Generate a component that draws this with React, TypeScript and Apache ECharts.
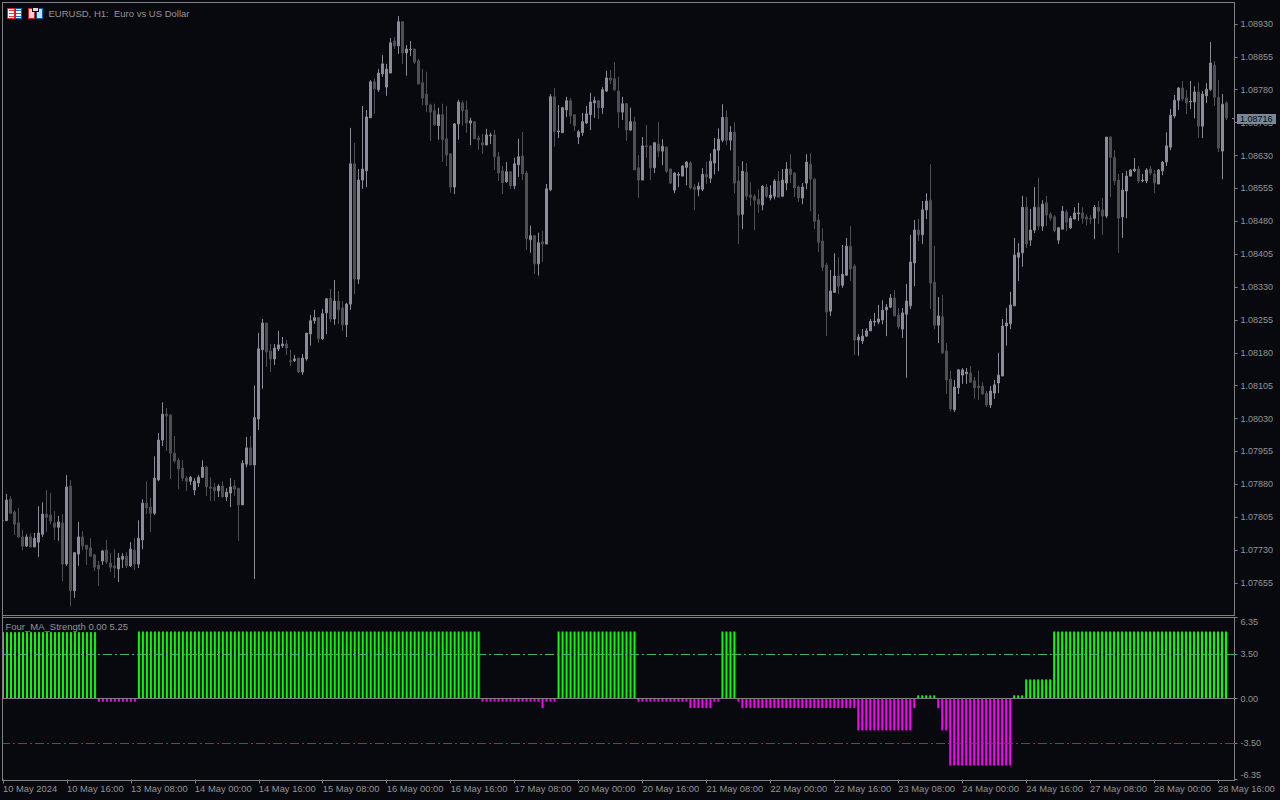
import React, { useEffect, useRef } from "react";
import * as echarts from "echarts";

// Candles, in 1e-5 price units: [open, close, low, high]
const candles: number[][] = [
[107798,107797,107796,107799],[107797,107844,107797,107858],[107846,107814,107812,107853],[107817,107789,107764,107821],
[107792,107760,107758,107826],[107760,107739,107730,107776],[107739,107760,107737,107766],[107760,107737,107737,107768],
[107737,107757,107737,107769],[107748,107769,107714,107830],[107766,107812,107760,107839],[107812,107805,107771,107867],
[107810,107796,107789,107860],[107792,107782,107753,107819],[107782,107794,107751,107808],[107792,107698,107659,107812],
[107698,107874,107694,107901],[107876,107637,107602,107890],[107637,107724,107621,107725],[107721,107760,107694,107794],
[107760,107739,107730,107773],[107741,107732,107696,107741],[107735,107716,107716,107757],[107719,107691,107682,107721],
[107696,107687,107648,107705],[107705,107728,107696,107730],[107730,107703,107698,107753],[107700,107691,107680,107723],
[107694,107689,107666,107732],[107687,107712,107657,107723],[107709,107716,107689,107723],[107716,107694,107689,107725],
[107694,107732,107691,107748],[107730,107698,107684,107757],[107698,107757,107689,107798],[107753,107837,107732,107846],
[107837,107826,107812,107887],[107828,107814,107771,107849],[107814,107894,107810,107944],[107890,107981,107887,107997],
[107981,108040,107967,108067],[108040,108036,107956,108054],[108038,107951,107892,108040],[107951,107933,107928,107990],
[107935,107915,107869,107940],[107917,107894,107887,107935],[107894,107887,107865,107899],[107887,107896,107878,107899],
[107867,107887,107855,107894],[107883,107896,107874,107901],[107896,107919,107894,107935],[107919,107874,107853,107922],
[107874,107871,107842,107896],[107873,107865,107842,107883],[107865,107876,107851,107880],[107876,107851,107851,107887],
[107851,107862,107842,107871],[107860,107874,107828,107894],[107876,107869,107853,107890],[107871,107833,107751,107871],
[107833,107928,107833,107935],[107926,107963,107919,107988],[107963,107924,107924,107990],[107924,108032,107664,108105],
[108029,108189,108004,108225],[108187,108248,108098,108257],[108248,108182,108148,108248],[108184,108166,108136,108200],
[108166,108191,108152,108200],[108189,108198,108184,108230],[108196,108200,108191,108216],[108200,108191,108175,108209],
[108162,108160,108150,108187],[108162,108166,108159,108175],[108168,108136,108134,108168],[108136,108168,108130,108177],
[108166,108225,108162,108225],[108223,108253,108196,108266],[108253,108260,108246,108278],[108260,108212,108203,108262],
[108212,108269,108209,108280],[108271,108303,108223,108305],[108305,108257,108250,108326],[108257,108298,108244,108346],
[108298,108278,108246,108321],[108282,108244,108230,108298],[108244,108291,108216,108294],[108291,108611,108278,108693],
[108611,108348,108314,108659],[108348,108574,108337,108599],[108574,108599,108554,108743],[108595,108718,108558,108734],
[108716,108798,108716,108802],[108798,108782,108725,108805],[108780,108818,108775,108827],[108816,108839,108809,108859],
[108786,108827,108766,108839],[108818,108887,108818,108898],[108891,108880,108873,108900],[108880,108935,108862,108948],
[108935,108864,108839,108937],[108864,108873,108812,108882],[108871,108872,108857,108891],[108873,108843,108839,108873],
[108846,108793,108793,108850],[108796,108761,108745,108827],[108770,108745,108729,108821],[108745,108729,108663,108748],
[108732,108700,108698,108748],[108698,108723,108666,108739],[108723,108666,108615,108748],[108668,108631,108606,108743],
[108634,108558,108545,108634],[108558,108702,108542,108704],[108702,108752,108666,108757],[108750,108732,108698,108755],
[108734,108704,108682,108755],[108704,108709,108654,108716],[108707,108668,108668,108707],[108670,108666,108643,108675],
[108659,108654,108634,108679],[108654,108677,108654,108691],[108675,108677,108656,108682],[108677,108627,108597,108688],
[108627,108590,108572,108638],[108595,108568,108542,108606],[108570,108593,108568,108615],[108593,108561,108554,108595],
[108561,108611,108554,108625],[108609,108627,108581,108668],[108629,108588,108574,108684],[108590,108440,108415,108595],
[108438,108447,108408,108470],[108447,108383,108360,108447],[108383,108431,108356,108454],[108433,108428,108387,108458],
[108428,108554,108428,108565],[108552,108764,108549,108770],[108764,108684,108650,108784],[108684,108686,108670,108745],
[108682,108739,108682,108741],[108734,108755,108718,108764],[108755,108720,108702,108761],[108723,108698,108686,108723],
[108672,108684,108656,108688],[108682,108707,108675,108727],[108704,108725,108702,108743],[108723,108752,108688,108773],
[108750,108755,108716,108764],[108755,108739,108713,108755],[108739,108780,108725,108786],[108777,108807,108775,108823],
[108807,108802,108793,108825],[108805,108780,108777,108843],[108777,108729,108693,108809],[108729,108748,108711,108764],
[108748,108688,108663,108750],[108688,108707,108686,108739],[108707,108597,108597,108718],[108602,108574,108533,108631],
[108574,108652,108574,108672],[108652,108650,108625,108700],[108652,108602,108574,108652],[108602,108659,108590,108661],
[108656,108640,108626,108706],[108640,108651,108608,108667],[108649,108594,108590,108651],[108599,108567,108565,108601],
[108551,108590,108544,108592],[108585,108587,108558,108592],[108583,108606,108583,108608],[108603,108615,108562,108617],
[108613,108556,108553,108617],[108558,108553,108505,108565],[108553,108560,108537,108569],[108553,108587,108549,108601],
[108587,108581,108565,108615],[108578,108617,108567,108635],[108613,108644,108587,108670],[108642,108667,108594,108692],
[108665,108717,108660,108747],[108717,108665,108654,108733],[108665,108683,108642,108697],[108683,108567,108544,108706],
[108572,108494,108428,108606],[108496,108594,108462,108617],[108592,108537,108528,108613],[108540,108535,108515,108569],
[108537,108528,108460,108542],[108530,108519,108499,108553],[108517,108560,108505,108562],[108558,108537,108533,108565],
[108533,108540,108528,108562],[108537,108572,108530,108576],[108572,108535,108535,108594],[108537,108574,108535,108599],
[108567,108599,108551,108615],[108599,108587,108567,108633],[108590,108556,108535,108592],[108558,108533,108524,108562],
[108533,108558,108519,108567],[108567,108615,108553,108633],[108610,108576,108503,108635],[108576,108480,108462,108578],
[108483,108432,108410,108496],[108435,108375,108366,108464],[108380,108273,108218,108385],[108275,108321,108264,108369],
[108318,108355,108316,108407],[108355,108332,108314,108398],[108334,108359,108328,108426],[108357,108423,108355,108442],
[108423,108371,108344,108469],[108378,108209,108175,108382],[108209,108216,108173,108223],[108207,108218,108200,108234],
[108218,108230,108216,108236],[108230,108252,108230,108257],[108250,108252,108241,108271],[108250,108257,108245,108289],
[108255,108277,108245,108300],[108278,108284,108218,108291],[108284,108305,108282,108314],[108305,108264,108264,108323],
[108266,108239,108234,108282],[108234,108271,108214,108282],[108268,108298,108123,108337],[108287,108387,108280,108449],
[108385,108460,108332,108483],[108460,108449,108435,108485],[108449,108506,108428,108526],[108506,108526,108485,108544],
[108528,108339,108280,108610],[108341,108243,108234,108424],[108243,108264,108202,108307],[108262,108180,108177,108312],
[108184,108118,108086,108202],[108120,108052,108047,108139],[108050,108102,108045,108118],[108100,108141,108086,108143],
[108129,108141,108109,108145],[108132,108136,108109,108145],[108134,108113,108111,108150],[108116,108100,108075,108125],
[108104,108100,108072,108139],[108104,108086,108084,108113],[108088,108061,108056,108093],[108061,108093,108054,108104],
[108088,108107,108075,108118],[108111,108129,108088,108180],[108127,108241,108127,108257],[108241,108248,108196,108282],
[108246,108289,108234,108319],[108287,108403,108287,108442],[108398,108408,108344,108430],[108408,108512,108376,108538],
[108512,108428,108419,108535],[108437,108460,108424,108508],[108460,108512,108453,108558],[108512,108469,108460,108579],
[108469,108519,108458,108528],[108522,108494,108469,108538],[108496,108487,108481,108501],[108490,108458,108455,108494],
[108437,108465,108428,108467],[108462,108503,108462,108515],[108501,108478,108458,108506],[108465,108487,108462,108492],
[108485,108499,108485,108512],[108497,108499,108481,108522],[108499,108487,108474,108512],[108490,108485,108471,108496],
[108487,108485,108474,108494],[108487,108512,108439,108517],[108512,108503,108474,108526],[108506,108492,108449,108533],
[108492,108672,108487,108672],[108672,108626,108535,108674],[108626,108572,108563,108642],[108574,108487,108408,108588],
[108490,108551,108442,108590],[108549,108583,108487,108595],[108583,108597,108583,108599],[108595,108599,108592,108624],
[108599,108572,108567,108606],[108572,108574,108569,108588],[108572,108597,108567,108601],[108599,108590,108585,108606],
[108588,108567,108544,108597],[108565,108597,108565,108599],[108595,108615,108585,108617],[108615,108652,108606,108683],
[108649,108722,108642,108736],[108720,108756,108715,108768],[108756,108784,108734,108786],[108784,108759,108754,108800],
[108761,108750,108724,108779],[108752,108754,108736,108800],[108752,108775,108715,108788],[108775,108697,108670,108797],
[108697,108770,108670,108777],[108766,108781,108750,108795],[108781,108841,108777,108889],[108836,108763,108743,108845],
[108763,108647,108638,108802],[108640,108747,108576,108770],[108750,108716,108711,108754],
];

// Indicator histogram as read: [value, how many bars in a row]
const strengthRuns: number[][] = [
  [5.2, 24], [-0.25, 10], [5.25, 86], [-0.25, 15], [-0.75, 1], [-0.25, 3], [5.25, 20], [-0.25, 13],
  [-0.75, 6], [-0.25, 2], [5.25, 4], [-0.25, 1], [-0.75, 29], [-2.5, 14], [-0.75, 1], [0.25, 5],
  [-0.75, 1], [-2.5, 2], [-5.25, 16], [0.25, 3], [1.5, 7], [5.25, 44],
];

const timeLabels = [
  "10 May 2024", "10 May 16:00", "13 May 08:00", "14 May 00:00", "14 May 16:00", "15 May 08:00", "16 May 00:00",
  "16 May 16:00", "17 May 08:00", "20 May 00:00", "20 May 16:00", "21 May 08:00", "22 May 00:00", "22 May 16:00",
  "23 May 08:00", "24 May 00:00", "24 May 16:00", "27 May 08:00", "28 May 00:00", "28 May 16:00",
];

const priceTicks = [
  1.0893, 1.08855, 1.0878, 1.08705, 1.0863, 1.08555, 1.0848, 1.08405, 1.0833, 1.08255, 1.0818, 1.08105, 1.0803,
  1.07955, 1.0788, 1.07805, 1.0773, 1.07655,
];
const strengthTicks = [6.35, 3.5, 0, -3.5, -6.35];
const currentPrice = 1.08716;

const BG = "#08090e";
const GREY = "#808080";
const TEXT = "#949494";
const FONT = "'Liberation Sans', Arial, sans-serif";
const LABEL_EVERY = 16;
const SLOTS = 308;

export default function App() {
  const ref = useRef<HTMLDivElement>(null);
  useEffect(() => {
    document.body.style.margin = "0";
    document.body.style.background = BG;
    const chart = echarts.init(ref.current!, null, { renderer: "svg" });

    const strength: number[] = [];
    strengthRuns.forEach(([v, n]) => {
      for (let k = 0; k < n; k++) strength.push(v);
    });
    const categories: string[] = [];
    for (let i = 0; i < SLOTS; i++) categories.push(i % LABEL_EVERY === 0 ? timeLabels[i / LABEL_EVERY] ?? "" : "");
    const everySixteenth = (i: number) => i % LABEL_EVERY === 0;

    const frame = (x: number, y: number, w: number, h: number, fill = GREY, z = 100) => ({
      type: "rect", z, silent: true, shape: { x, y, width: w, height: h }, style: { fill },
    });
    const box = (x: number, y: number, w: number, h: number, stroke: string, fill: string) => ({
      type: "rect", z: 101, silent: true,
      shape: { x: x + 0.5, y: y + 0.5, width: w - 1, height: h - 1 }, style: { stroke, fill, lineWidth: 1 },
    });

    chart.setOption({
      animation: false,
      backgroundColor: BG,
      textStyle: { fontFamily: FONT },
      grid: [
        { left: 0.5, top: 2.5, width: 1232, height: 612 },
        { left: 0, top: 617.5, width: 1232, height: 162 },
      ],
      xAxis: [
        { type: "category", gridIndex: 0, data: categories, show: false, boundaryGap: true },
        {
          type: "category", gridIndex: 1, data: categories, boundaryGap: true,
          axisLine: { show: false, onZero: false },
          axisTick: { show: true, length: 4, alignWithLabel: true, interval: everySixteenth, lineStyle: { color: GREY } },
          axisLabel: {
            show: true, interval: everySixteenth, align: "left", color: TEXT, fontSize: 9.4, fontFamily: FONT,
            margin: 4.5, hideOverlap: false,
          },
          splitLine: { show: false },
        },
      ],
      yAxis: [
        {
          type: "value", gridIndex: 0, position: "right", offset: 2, min: 1.07583, max: 1.08979, scale: true,
          axisLine: { show: true, lineStyle: { color: GREY, width: 1 } },
          axisTick: { show: true, length: 3, customValues: priceTicks, lineStyle: { color: GREY } },
          axisLabel: {
            show: true, customValues: priceTicks, color: TEXT, fontSize: 9, fontFamily: FONT, margin: 6,
            formatter: (v: number) => v.toFixed(5), showMinLabel: true, showMaxLabel: true,
          },
          splitLine: { show: false },
        },
        {
          type: "value", gridIndex: 1, position: "right", offset: 2.5, min: -6.35, max: 6.35,
          axisLine: { show: true, lineStyle: { color: GREY, width: 1 } },
          axisTick: { show: true, length: 3, customValues: strengthTicks, lineStyle: { color: GREY } },
          axisLabel: {
            show: true, customValues: strengthTicks, color: TEXT, fontSize: 9, fontFamily: FONT, margin: 6,
            formatter: (v: number) => v.toFixed(2), verticalAlignMaxLabel: "bottom", verticalAlignMinLabel: "top",
          },
          splitLine: { show: false },
        },
      ],
      series: [
        {
          type: "candlestick", xAxisIndex: 0, yAxisIndex: 0, barWidth: 2, clip: true, silent: true,
          itemStyle: { color: "#8b8c99", color0: "#4e4e54", borderColor: "#8b8c99", borderColor0: "#4e4e54", borderWidth: 1 },
          data: candles.map((r) => r.map((v) => v / 1e5)),
          markLine: {
            silent: true, symbol: "none", label: { show: false },
            lineStyle: { color: "#778899", type: "solid", width: 1 },
            data: [{ yAxis: currentPrice }],
          },
        },
        {
          type: "bar", xAxisIndex: 1, yAxisIndex: 1, barWidth: 2, barGap: "-100%", silent: true,
          itemStyle: { color: "#00ff00" },
          data: strength.map((v) => (v > 0 ? v : "-")),
          markLine: {
            silent: true, symbol: "none", label: { show: false },
            data: [
              { yAxis: 3.5, lineStyle: { color: "#3cb371", type: [9, 3, 2, 3], width: 1 } },
              { yAxis: 0, lineStyle: { color: GREY, type: "solid", width: 1 } },
              { yAxis: -3.5, lineStyle: { color: "#dc1414", type: [9, 3, 2, 3], width: 1 } },
            ],
          },
        },
        {
          type: "bar", xAxisIndex: 1, yAxisIndex: 1, barWidth: 2, barGap: "-100%", silent: true,
          itemStyle: { color: "#ff00ff" },
          data: strength.map((v) => (v < 0 ? v : "-")),
        },
      ],
      graphic: {
        elements: [
          frame(0, 0, 2, 800, BG),
          frame(2, 2, 1233, 1),
          frame(2, 2, 1, 779),
          frame(2, 615, 1233, 1),
          frame(2, 617, 1233, 1),
          frame(2, 780, 1233, 1),
          frame(1234, 617, 1, 164),
          frame(1232, 118, 3, 1, "#778899"),
          frame(1232, 654, 3, 1, "#3cb371"),
          frame(1232, 698, 3, 1, GREY),
          frame(1232, 743, 3, 1, "#dc1414"),
          frame(1237, 114, 39, 10, "#778899", 102),
          {
            type: "text", z: 103, silent: true, x: 1240, y: 119,
            style: { text: currentPrice.toFixed(5), fill: "#06070c", font: `9px ${FONT}`, verticalAlign: "middle", align: "left" },
          },
          {
            type: "text", z: 103, silent: true, x: 48.5, y: 13.5,
            style: { text: "EURUSD, H1:  Euro vs US Dollar", fill: TEXT, font: `9.5px ${FONT}`, verticalAlign: "middle", align: "left" },
          },
          {
            type: "text", z: 103, silent: true, x: 5.5, y: 626.5,
            style: { text: "Four_MA_Strength 0.00 5.25", fill: TEXT, font: `9.5px ${FONT}`, verticalAlign: "middle", align: "left" },
          },
          // chart-menu icon
          box(7, 8, 8, 11, "#e02020", "#ffffff"),
          box(15, 8, 7, 11, "#0060b0", "#ffffff"),
          frame(9, 10, 5, 1, "#e84040", 102), frame(9, 13, 5, 1, "#e84040", 102), frame(9, 16, 5, 1, "#e84040", 102),
          frame(16, 10, 5, 1, "#2070c0", 102), frame(16, 13, 5, 1, "#2070c0", 102), frame(16, 16, 5, 1, "#2070c0", 102),
          // trade-panel icon
          box(28, 8, 7, 11, "#e02020", "#ffd8d0"),
          box(36, 8, 7, 11, "#0060b0", "#b8e0ff"),
          frame(32, 8, 7, 4, BG, 102),
          frame(33, 8, 5, 3, "#d8d8d8", 103),
        ],
      },
    });
    return () => chart.dispose();
  }, []);
  return <div ref={ref} style={{ width: 1280, height: 800, background: BG }} />;
}
